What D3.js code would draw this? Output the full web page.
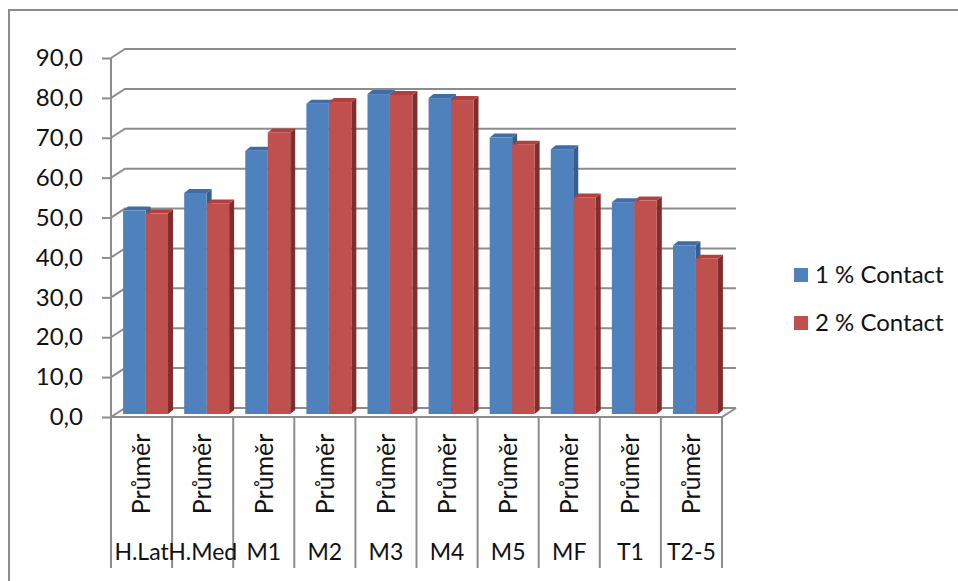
<!DOCTYPE html>
<html>
<head>
<meta charset="utf-8">
<script src="https://cdnjs.cloudflare.com/ajax/libs/d3/7.8.5/d3.min.js"></script>
<style>
  html, body { margin: 0; padding: 0; background: #fff; }
  svg { display: block; font-family: Lato, "Open Sans", sans-serif; }
</style>
</head>
<body>
<svg id="chart" width="958" height="581"></svg>
<script>
// Data
const categories = ["H.Lat", "H.Med", "M1", "M2", "M3", "M4", "M5", "MF", "T1", "T2-5"];
const subLabel = "Průměr";
const seriesNames = ["1 % Contact", "2 % Contact"];
const contact1 = [51.0, 55.4, 66.0, 77.8, 80.2, 79.2, 69.3, 66.4, 53.1, 42.3];
const contact2 = [50.3, 52.8, 70.6, 78.2, 80.0, 78.7, 67.5, 54.3, 53.5, 38.9];
const yTicks = [0, 10, 20, 30, 40, 50, 60, 70, 80, 90];

// Colours: front, top, side per series
const palette = [
  { front: "#4F81BD", top: "#3F6DA6", side: "#385D8A" },
  { front: "#C0504D", top: "#B0413E", side: "#7E2F2D" }
];
const gridColor = "#8C8C8C";
const textColor = "#111";

const svg = d3.select("#chart");

// Outer frame (left and top edges)
svg.append("path")
  .attr("d", "M9,581 V10 H958")
  .attr("fill", "none").attr("stroke", gridColor).attr("stroke-width", 2);

// Front plane geometry and depth offsets
const x0 = 111, x1 = 722;
const wall = { dx: 14, dy: -9 };      // back wall offset
const barPos = { dx: 4, dy: -3 };     // bar front face offset
const barDepth = { dx: 5, dy: -4 };   // bar thickness in depth

const y = d3.scaleLinear().domain([0, 90]).range([417, 58]);
const x = d3.scaleBand().domain(categories).range([x0, x1]).paddingInner(0).paddingOuter(0);
const inner = d3.scaleBand().domain([0, 1]).range([0, x.bandwidth()]).paddingOuter(0.36).paddingInner(0);

const g = svg.append("g");

// Back wall gridlines with diagonal joins to the front axis
yTicks.forEach(t => {
  const yf = y(t), yb = y(t) + wall.dy;
  g.append("path")
    .attr("d", `M${x0},${yf} L${x0 + wall.dx},${yb} H${x1 + wall.dx}`)
    .attr("fill", "none").attr("stroke", gridColor).attr("stroke-width", 2);
});

// Floor front edge and right diagonal
g.append("path")
  .attr("d", `M${x0},${y(0)} H${x1} L${x1 + wall.dx},${y(0) + wall.dy}`)
  .attr("fill", "none").attr("stroke", gridColor).attr("stroke-width", 2);

// Y axis line and ticks
const yAxis = d3.axisLeft(y).tickValues(yTicks).tickSize(9).tickPadding(19)
  .tickFormat(d => d3.format(".1f")(d).replace(".", ","));
const yg = svg.append("g").attr("transform", `translate(${x0},0)`).call(yAxis);
yg.select(".domain").remove();
yg.append("line").attr("x1", 0).attr("x2", 0).attr("y1", y(90)).attr("y2", y(0))
  .attr("stroke", gridColor).attr("stroke-width", 2);
yg.selectAll(".tick line").attr("stroke", gridColor).attr("stroke-width", 2);
yg.selectAll(".tick text").attr("font-size", 24).attr("fill", textColor)
  .attr("font-family", "Lato, sans-serif");

// Category table lines below the floor
const bounds = categories.map(c => x(c)).concat([x1]);
g.selectAll(".catline").data(bounds).join("line")
  .attr("x1", d => d).attr("x2", d => d)
  .attr("y1", y(0)).attr("y2", 568)
  .attr("stroke", gridColor).attr("stroke-width", 2);

// 3D bars
const seriesData = [contact1, contact2];
const barsG = svg.append("g");
categories.forEach((c, i) => {
  seriesData.forEach((vals, s) => {
    const v = vals[i];
    const xl = x(c) + inner(s) + barPos.dx;
    const w = inner.bandwidth();
    const yb = y(0) + barPos.dy;
    const yt = y(v) + barPos.dy;
    const col = palette[s];
    // side face
    barsG.append("path")
      .attr("d", `M${xl + w},${yt} L${xl + w + barDepth.dx},${yt + barDepth.dy} L${xl + w + barDepth.dx},${yb + barDepth.dy} L${xl + w},${yb} Z`)
      .attr("fill", col.side);
    // top face
    barsG.append("path")
      .attr("d", `M${xl},${yt} L${xl + barDepth.dx},${yt + barDepth.dy} L${xl + w + barDepth.dx},${yt + barDepth.dy} L${xl + w},${yt} Z`)
      .attr("fill", col.top);
    // front face
    barsG.append("rect")
      .attr("x", xl).attr("y", yt).attr("width", w).attr("height", yb - yt)
      .attr("fill", col.front);
  });
});

// Category labels: rotated sub label and category name
const labels = svg.append("g").attr("fill", textColor);
categories.forEach(c => {
  const cx = x(c) + x.bandwidth() / 2;
  labels.append("text")
    .attr("transform", `translate(${cx},474) rotate(-90)`)
    .attr("text-anchor", "middle").attr("dy", "0.35em")
    .attr("font-size", 25)
    .text(subLabel);
  labels.append("text")
    .attr("x", cx).attr("y", 560)
    .attr("text-anchor", "middle")
    .attr("font-size", 23)
    .text(c);
});

// Legend
const legend = svg.append("g").attr("transform", "translate(794,268)");
seriesNames.forEach((name, s) => {
  const row = legend.append("g").attr("transform", `translate(0,${s * 48})`);
  row.append("rect").attr("width", 14).attr("height", 14).attr("fill", palette[s].front);
  row.append("text").attr("x", 21).attr("y", 7).attr("dy", "0.35em")
    .attr("font-size", 24).attr("fill", textColor).text(name);
});
</script>
</body>
</html>
